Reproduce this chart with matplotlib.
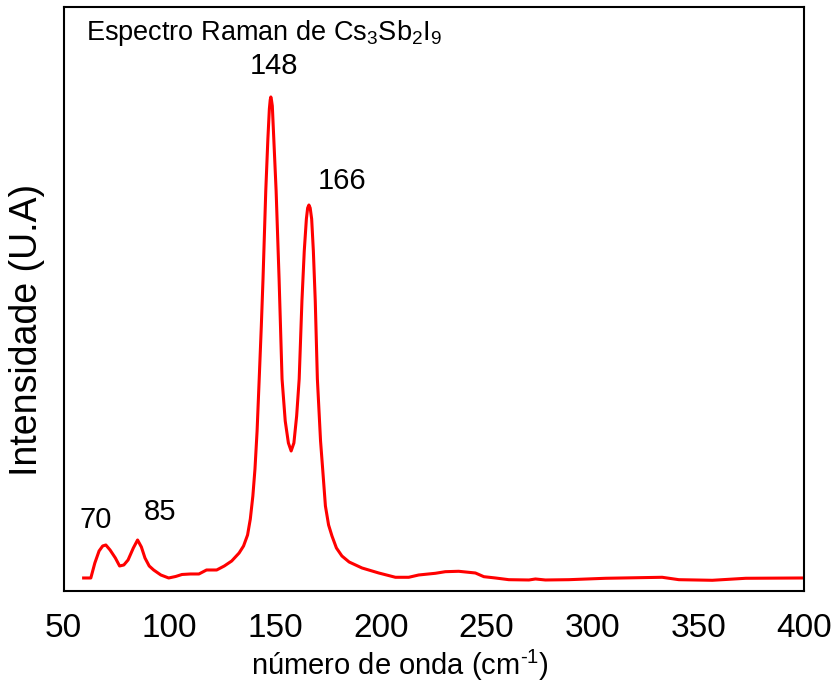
import matplotlib
matplotlib.use('Agg')
from matplotlib import pyplot as plt

plt.rcParams['font.family'] = ['Liberation Sans', 'DejaVu Sans']
plt.rcParams['mathtext.fontset'] = 'custom'
plt.rcParams['mathtext.rm'] = 'Liberation Sans'
plt.rcParams['mathtext.it'] = 'Liberation Sans'
plt.rcParams['mathtext.default'] = 'regular'

# Raman spectrum, wavenumber (cm-1) vs intensity (arbitrary units)
wavenumber = [59.5, 62.9, 64.8, 66.8, 68.5, 70, 72, 74.5, 76.5, 78.5, 80.5, 83, 85,
              86.8, 88.5, 90.5, 92.6, 96, 99.7, 103, 106, 110, 114, 117.6, 122.4,
              126, 129.5, 133, 135.1, 137, 138.3, 139.5, 140.5, 141.5, 142.5, 143.5,
              144.3, 145.6, 146.6, 147.3, 147.7, 148, 148.3, 148.7, 149.4, 150.5,
              151.9, 153.3, 154.8, 156.3, 157.6, 158.9, 160.2, 161.4, 162.7, 163.8,
              164.8, 165.4, 166, 166.6, 167.3, 168.1, 169, 170, 171.5, 172.5, 173.8,
              175.3, 176.9, 179, 181.6, 185, 191.1, 199, 206.9, 213.2, 217.9, 225.8,
              230.5, 236.8, 244.7, 248.7, 254.2, 260.5, 270, 273.1, 277.8, 288.9,
              306.2, 333, 340.9, 356.7, 372.5, 399.1]
intensity = [13, 13, 28, 40, 45, 46, 41, 33, 25, 26, 31, 43, 51,
             44, 33, 25, 21, 16, 13, 14.5, 16.5, 17, 17, 21, 21,
             25, 30, 38, 45, 56, 72, 95, 122, 160, 212, 265,
             312, 400, 452, 482, 491, 494, 491, 485, 452, 400,
             312, 212, 170, 148, 140, 148, 175, 212, 290, 340,
             372, 383, 386, 383, 372, 340, 290, 212, 150, 122, 85,
             66, 55, 43, 35, 29, 23, 18, 13.7, 13.7, 16, 17.7,
             19.3, 19.7, 18, 14.3, 13, 11.3, 11, 12, 11, 11.3,
             12.7, 13.7, 11.3, 10.7, 12.7, 13]

peak_positions = [70, 85, 148, 166]
peak_heights = [46, 51, 494, 386]
peak_offsets = [(-7, 18), (16, 20), (2, 22), (24, 17)]

xticks = [50, 100, 150, 200, 250, 300, 350, 400]

fig = plt.figure(figsize=(8.36, 6.9), dpi=100)
ax = fig.add_axes([0.076, 0.1435, 0.8856, 0.8464])

ax.plot(wavenumber, intensity, color='#ff0000', linewidth=2.2)

for pos, height, off in zip(peak_positions, peak_heights, peak_offsets):
    ax.annotate(str(pos), xy=(pos, height), xytext=off, textcoords='offset points',
                ha='center', va='center', fontsize=21)

ax.text(0.031, 0.9435, 'Espectro Raman de Cs$_3$Sb$_2$I$_9$', transform=ax.transAxes,
        ha='left', va='baseline', fontsize=19.5)

ax.set_xlim(50, 400)
ax.set_ylim(0, 584)
ax.set_xticks(xticks)
ax.set_yticks([])
ax.tick_params(axis='x', length=0, pad=16, labelsize=24)

for spine in ax.spines.values():
    spine.set_linewidth(1.5)

ax.set_xlabel('número de onda (cm$^{\\text{-1}}$)', fontsize=21)
ax.xaxis.set_label_coords(0.454, -0.098)
ax.set_ylabel('Intensidade (U.A)', fontsize=27, va='center')
ax.yaxis.set_label_coords(-0.049, 0.447)

fig.savefig('out.png', dpi=100)
